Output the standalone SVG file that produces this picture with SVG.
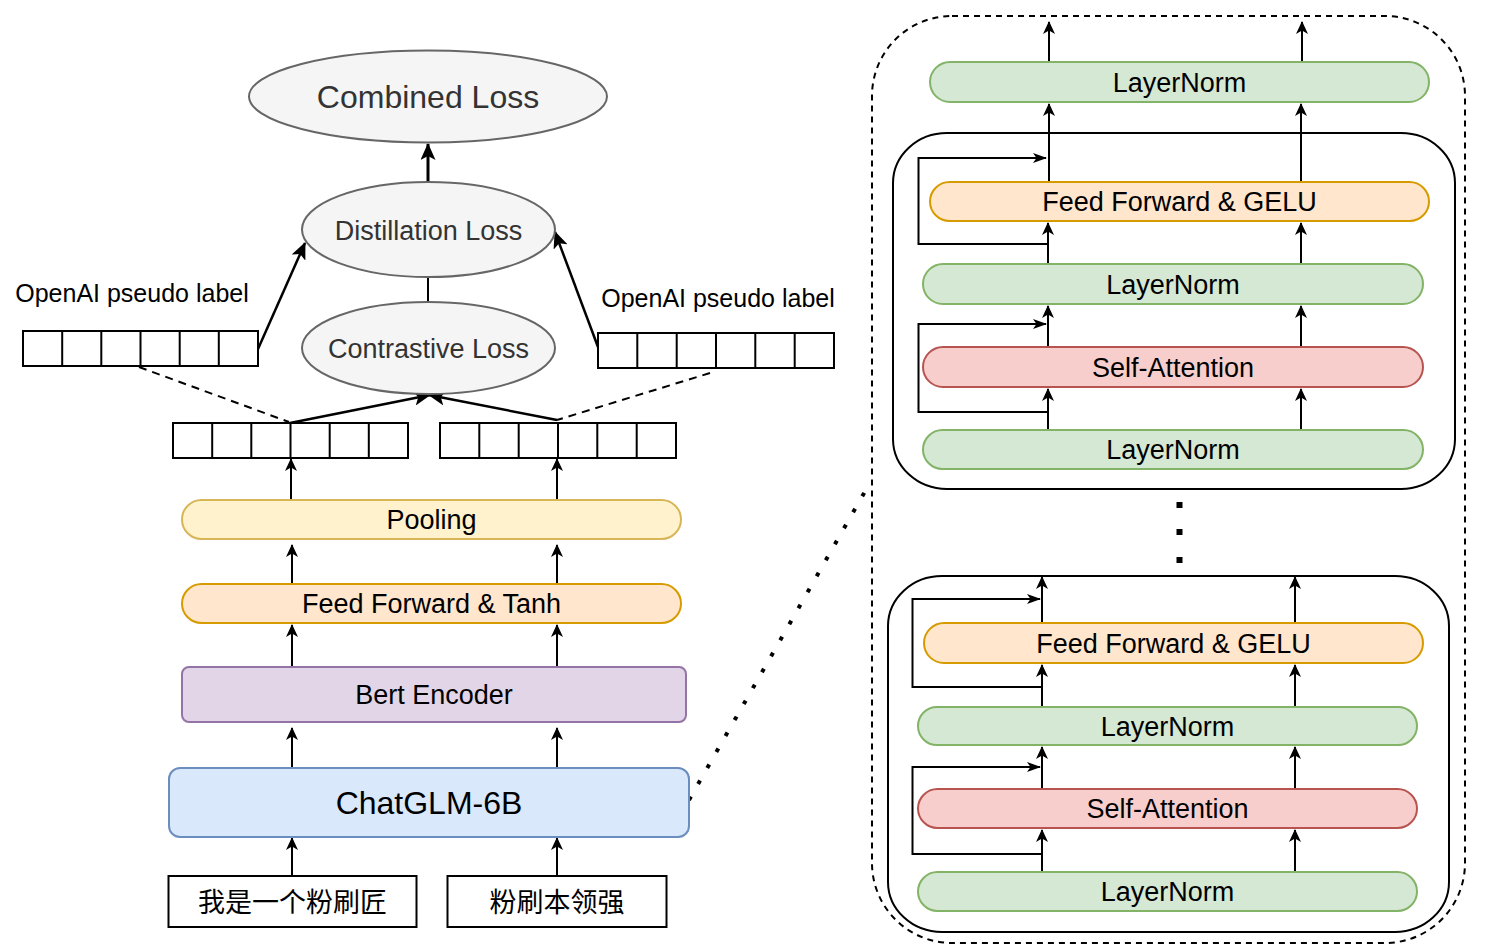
<svg xmlns="http://www.w3.org/2000/svg" width="1486" height="952" viewBox="0 0 1486 952">
<defs>
<style>
text{font-family:"Liberation Sans",Arial,sans-serif;fill:#000;text-anchor:middle}
.t27{font-size:27px}
.loss{fill:#f5f5f5;stroke:#666;stroke-width:2}
.ltxt{fill:#333}
.vec{fill:#fff;stroke:#000;stroke-width:2}
.ln{fill:#d5e8d4;stroke:#82b366;stroke-width:2}
.ff{fill:#ffe6cc;stroke:#d79b00;stroke-width:2}
.sa{fill:#f8cecc;stroke:#b85450;stroke-width:2}
.pool{fill:#fff2cc;stroke:#d6b656;stroke-width:2}
.bert{fill:#e1d5e7;stroke:#9673a6;stroke-width:2}
.glm{fill:#dae8fc;stroke:#6c8ebf;stroke-width:2}
.in{fill:#fff;stroke:#000;stroke-width:2}
.a{fill:none;stroke:#000;stroke-width:2;marker-end:url(#arr)}
.aL{fill:none;stroke:#000;stroke-width:2.5;marker-end:url(#arrL)}
.sk{fill:none;stroke:#000;stroke-width:2;marker-end:url(#arrS)}
.dash{fill:none;stroke:#000;stroke-width:2;stroke-dasharray:8 6}
.cjk{font-family:"Liberation Sans","Noto Sans CJK SC",sans-serif;font-size:27px}
</style>
<marker id="arr" markerUnits="userSpaceOnUse" markerWidth="13" markerHeight="12" viewBox="0 0 13 12" refX="12" refY="6" orient="auto"><path d="M13,6 L0,0 L3.5,6 L0,12 Z" fill="#000"/></marker>
<marker id="arrL" markerUnits="userSpaceOnUse" markerWidth="17" markerHeight="15" viewBox="0 0 17 15" refX="16" refY="7.5" orient="auto"><path d="M17,7.5 L0,0 L4,7.5 L0,15 Z" fill="#000"/></marker>
<marker id="arrS" markerUnits="userSpaceOnUse" markerWidth="14" markerHeight="10" viewBox="0 0 14 10" refX="13" refY="5" orient="auto"><path d="M14,5 L0,0 L3.5,5 L0,10 Z" fill="#000"/></marker>
</defs>
<rect width="1486" height="952" fill="#fff"/>

<!-- right side containers -->
<g id="outer-box"><rect x="872" y="16" width="593" height="927" rx="80" ry="80" fill="none" stroke="#000" stroke-width="2" stroke-dasharray="6 5"/></g>
<g id="block1"><rect x="893" y="133" width="562" height="356" rx="54" ry="50" fill="none" stroke="#000" stroke-width="2"/></g>
<g id="block2"><rect x="888" y="576" width="561" height="356" rx="54" ry="50" fill="none" stroke="#000" stroke-width="2"/></g>
<g id="ellipsis-dots" fill="#000"><rect x="1176.5" y="502" width="6" height="6"/><rect x="1176.5" y="529" width="6" height="6"/><rect x="1176.5" y="557" width="6" height="6"/></g>

<!-- connectors -->
<g id="connectors">
<path class="aL" d="M428,182 L428,144" style="stroke-width:3"/>
<path d="M428,302 L428,277" fill="none" stroke="#000" stroke-width="2"/>
<path class="aL" d="M258,349 L305,243"/>
<path class="aL" d="M598,347 L555,232"/>
<path class="aL" d="M290,423 L430,395"/>
<path class="aL" d="M557,420 L429,395"/>
<path class="dash" d="M139,367 L289,422"/>
<path class="dash" d="M710,373 L557,420"/>
<path class="a" d="M291,499 L291,459"/>
<path class="a" d="M557,499 L557,459"/>
<path class="a" d="M292,584 L292,545"/>
<path class="a" d="M557,584 L557,545"/>
<path class="a" d="M292,667 L292,625"/>
<path class="a" d="M557,667 L557,625"/>
<path class="a" d="M292,768 L292,728"/>
<path class="a" d="M557,768 L557,728"/>
<path class="a" d="M292,876 L292,838"/>
<path class="a" d="M557,876 L557,838"/>
<path d="M689,800 L871,481" fill="none" stroke="#000" stroke-width="4" stroke-dasharray="4 14.4"/>
<!-- right top -->
<path class="a" d="M1049,62 L1049,22"/>
<path class="a" d="M1302,62 L1302,22"/>
<path class="a" d="M1049,182 L1049,104"/>
<path class="a" d="M1301,182 L1301,104"/>
<path class="a" d="M1048,264 L1048,223"/>
<path class="a" d="M1301,264 L1301,223"/>
<path class="a" d="M1048,347 L1048,306"/>
<path class="a" d="M1301,347 L1301,306"/>
<path class="a" d="M1048,430 L1048,389"/>
<path class="a" d="M1301,430 L1301,389"/>
<path class="sk" d="M1048,244 L918.5,244 L918.5,158 L1046,158"/>
<path class="sk" d="M1048,412 L918.5,412 L918.5,324 L1046,324"/>
<!-- right bottom -->
<path class="a" d="M1042,623 L1042,577"/>
<path class="a" d="M1295,623 L1295,577"/>
<path class="a" d="M1042,707 L1042,665"/>
<path class="a" d="M1295,707 L1295,665"/>
<path class="a" d="M1042,789 L1042,747"/>
<path class="a" d="M1295,789 L1295,747"/>
<path class="a" d="M1042,872 L1042,830"/>
<path class="a" d="M1295,872 L1295,830"/>
<path class="sk" d="M1042,687 L912.5,687 L912.5,599 L1040,599"/>
<path class="sk" d="M1042,854 L912.5,854 L912.5,767 L1040,767"/>
</g>

<!-- left side nodes -->
<g id="combined-loss"><ellipse class="loss" cx="428" cy="96.5" rx="179" ry="46"/><text class="ltxt" x="428" y="107.5" font-size="32">Combined Loss</text></g>
<g id="distillation-loss"><ellipse class="loss" cx="428.5" cy="229.5" rx="126.5" ry="47.5"/><text class="ltxt t27" x="428.5" y="239.5">Distillation Loss</text></g>
<g id="contrastive-loss"><ellipse class="loss" cx="428.5" cy="348" rx="126.5" ry="46"/><text class="ltxt t27" x="428.5" y="358">Contrastive Loss</text></g>

<g id="label-left"><text x="132" y="302" font-size="25">OpenAI pseudo label</text></g>
<g id="label-right"><text x="718" y="307" font-size="25">OpenAI pseudo label</text></g>

<g id="vec-label-left"><rect class="vec" x="23" y="331" width="235" height="35"/><path d="M62.2,331V366M101.3,331V366M140.5,331V366M179.7,331V366M218.8,331V366" stroke="#000" stroke-width="2"/></g>
<g id="vec-label-right"><rect class="vec" x="598" y="333" width="236" height="35"/><path d="M637.3,333V368M676.7,333V368M716,333V368M755.3,333V368M794.7,333V368" stroke="#000" stroke-width="2"/></g>
<g id="vec-emb-left"><rect class="vec" x="173" y="423" width="235" height="35"/><path d="M212.2,423V458M251.3,423V458M290.5,423V458M329.7,423V458M368.8,423V458" stroke="#000" stroke-width="2"/></g>
<g id="vec-emb-right"><rect class="vec" x="440" y="423" width="236" height="35"/><path d="M479.3,423V458M518.7,423V458M558,423V458M597.3,423V458M636.7,423V458" stroke="#000" stroke-width="2"/></g>

<g id="pooling"><rect class="pool" x="182" y="500" width="499" height="39" rx="19.5"/><text class="t27" x="431.5" y="528.5">Pooling</text></g>
<g id="ff-tanh"><rect class="ff" x="182" y="584" width="499" height="39" rx="19.5"/><text class="t27" x="431.5" y="612.5">Feed Forward &amp; Tanh</text></g>
<g id="bert"><rect class="bert" x="182" y="667" width="504" height="55" rx="7"/><text class="t27" x="434" y="704">Bert Encoder</text></g>
<g id="chatglm"><rect class="glm" x="169" y="768" width="520" height="69" rx="11"/><text x="429" y="813.5" font-size="32">ChatGLM-6B</text></g>
<g id="input-1"><rect class="in" x="168.5" y="876" width="248" height="51"/><text class="cjk" x="292.5" y="911.5">我是一个粉刷匠</text></g>
<g id="input-2"><rect class="in" x="447.5" y="876" width="219" height="51"/><text class="cjk" x="557" y="911.5">粉刷本领强</text></g>

<!-- right side nodes -->
<g id="ln-top"><rect class="ln" x="930" y="62" width="499" height="40" rx="20"/><text class="t27" x="1179.5" y="91.5">LayerNorm</text></g>
<g id="b1-ff"><rect class="ff" x="930" y="182" width="499" height="39" rx="19.5"/><text class="t27" x="1179.5" y="211">Feed Forward &amp; GELU</text></g>
<g id="b1-ln2"><rect class="ln" x="923" y="264" width="500" height="40" rx="20"/><text class="t27" x="1173" y="293.5">LayerNorm</text></g>
<g id="b1-sa"><rect class="sa" x="923" y="347" width="500" height="40" rx="20"/><text class="t27" x="1173" y="376.5">Self-Attention</text></g>
<g id="b1-ln1"><rect class="ln" x="923" y="430" width="500" height="39" rx="19.5"/><text class="t27" x="1173" y="459">LayerNorm</text></g>
<g id="b2-ff"><rect class="ff" x="924" y="623" width="499" height="40" rx="20"/><text class="t27" x="1173.5" y="652.5">Feed Forward &amp; GELU</text></g>
<g id="b2-ln2"><rect class="ln" x="918" y="707" width="499" height="38" rx="19"/><text class="t27" x="1167.5" y="735.5">LayerNorm</text></g>
<g id="b2-sa"><rect class="sa" x="918" y="789" width="499" height="39" rx="19.5"/><text class="t27" x="1167.5" y="818">Self-Attention</text></g>
<g id="b2-ln1"><rect class="ln" x="918" y="872" width="499" height="39" rx="19.5"/><text class="t27" x="1167.5" y="901">LayerNorm</text></g>
</svg>
